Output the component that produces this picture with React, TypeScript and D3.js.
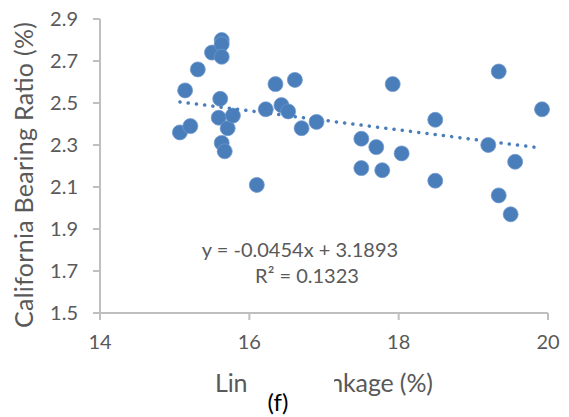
import React from "react";
import * as d3 from "d3";

const width = 569;
const height = 417;
const margin = { top: 19, right: 21, bottom: 104, left: 100 };

// linear shrinkage (%)
const shrinkage = [
  15.07, 15.21, 15.14, 15.31, 15.5, 15.63, 15.63, 15.63, 15.61, 15.59, 15.63, 15.67,
  15.71, 15.78, 16.1, 16.22, 16.35, 16.43, 16.52, 16.61, 16.7, 16.9, 17.5, 17.7,
  17.5, 17.78, 17.92, 18.04, 18.49, 18.49, 19.34, 19.92, 19.2, 19.56, 19.34, 19.5,
];
// california bearing ratio (%)
const cbr = [
  2.36, 2.39, 2.56, 2.66, 2.74, 2.8, 2.78, 2.72, 2.52, 2.43, 2.31, 2.27,
  2.38, 2.44, 2.11, 2.47, 2.59, 2.49, 2.46, 2.61, 2.38, 2.41, 2.33, 2.29,
  2.19, 2.18, 2.59, 2.26, 2.42, 2.13, 2.65, 2.47, 2.3, 2.22, 2.06, 1.97,
];
const xTicks = [14, 16, 18, 20];
const yTicks = [1.5, 1.7, 1.9, 2.1, 2.3, 2.5, 2.7, 2.9];
const slope = -0.0454;
const intercept = 3.1893;

const axisColor = "#bfbfbf";
const textColor = "#595959";
const dotColor = "#4a7ebb";
const font = "Lato, sans-serif";

export default function App() {
  const x = d3.scaleLinear().domain([14, 20]).range([margin.left, width - margin.right]);
  const y = d3.scaleLinear().domain([1.5, 2.9]).range([height - margin.bottom, margin.top]);

  const [xMin, xMax] = d3.extent(shrinkage) as [number, number];
  const trend = d3.line<number>()
    .x(d => x(d))
    .y(d => y(slope * d + intercept))([xMin, xMax]);

  const x0 = x(14);
  const y0 = y(1.5);

  return (
    <svg width={width} height={height} style={{ position: "absolute", left: 0, top: 0 }}>
      <rect width={width} height={height} fill="white" />
      {/* y axis */}
      <line x1={x0} x2={x0} y1={y(2.9)} y2={y0} stroke={axisColor} strokeWidth={2} />
      {yTicks.map(t => (
        <g key={t}>
          <line x1={x0 - 7} x2={x0} y1={y(t)} y2={y(t)} stroke={axisColor} strokeWidth={2} />
          <text x={x0 - 22} y={y(t) + 7} textAnchor="end" fontFamily={font} fontSize={20} fill={textColor}>
            {t.toFixed(1)}
          </text>
        </g>
      ))}
      {/* x axis */}
      <line x1={x0} x2={x(20)} y1={y0} y2={y0} stroke={axisColor} strokeWidth={2} />
      {xTicks.map(t => (
        <g key={t}>
          <line x1={x(t)} x2={x(t)} y1={y0} y2={y0 + 7} stroke={axisColor} strokeWidth={2} />
          <text x={x(t)} y={y0 + 36} textAnchor="middle" fontFamily={font} fontSize={20} fill={textColor}>
            {t}
          </text>
        </g>
      ))}
      {/* points */}
      {shrinkage.map((s, i) => (
        <circle key={i} cx={x(s)} cy={y(cbr[i])} r={7.5} fill={dotColor} stroke="#6f98cc" strokeWidth={0.75} />
      ))}
      {/* trendline */}
      <path d={trend ?? ""} fill="none" stroke={dotColor} strokeWidth={3.5}
        strokeDasharray="0.1 8.2" strokeLinecap="round" />
      {/* equation */}
      <text x={300} y={257} textAnchor="middle" fontFamily={font} fontSize={20} fill={textColor}>
        y = -0.0454x + 3.1893
      </text>
      <text x={307} y={283} textAnchor="middle" fontFamily={font} fontSize={20} fill={textColor}>
        R² = 0.1323
      </text>
      {/* axis titles */}
      <text transform={`translate(33,175) rotate(-90)`} textAnchor="middle" fontFamily={font} fontSize={25}
        fill={textColor} textLength={306}>
        California Bearing Ratio (%)
      </text>
      <text x={324} y={392} textAnchor="middle" fontFamily={font} fontSize={25} fill={textColor} textLength={218}>
        Linear Shrinkage (%)
      </text>
      <rect x={247} y={371} width={87} height={46} fill="white" />
      <text x={278} y={411} textAnchor="middle" fontFamily={font} fontSize={24} fill="#000">
        (f)
      </text>
    </svg>
  );
}
